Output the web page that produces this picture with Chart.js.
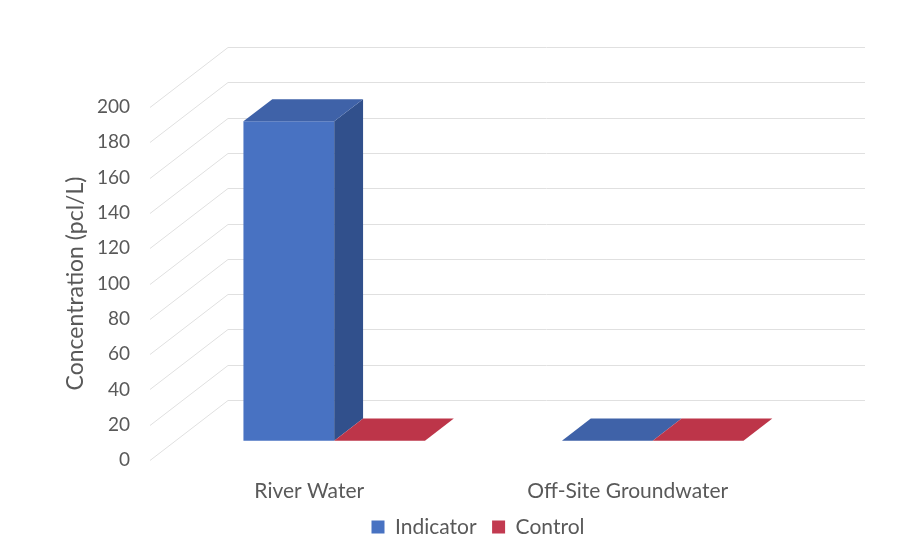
<!DOCTYPE html>
<html>
<head>
<meta charset="utf-8">
<script src="https://cdn.jsdelivr.net/npm/chart.js@4/dist/chart.umd.min.js"></script>
<style>
  html, body { margin: 0; padding: 0; background: #fff; }
  #wrap { width: 919px; height: 560px; }
</style>
</head>
<body>
<div id="wrap"><canvas id="chart"></canvas></div>
<script>
// chart data
const categories = ['River Water', 'Off-Site Groundwater'];
const seriesNames = ['Indicator', 'Control'];
const indicatorValues = [181, 0];
const controlValues = [0, 0];
const yMin = 0, yMax = 200, yStep = 20;

// front / top / side shading for each series
const faceColors = [
  { front: '#4872c2', top: '#3f62a8', side: '#31508c' },
  { front: '#c23a50', top: '#bd3549', side: '#962a3b' }
];

// fake perspective: the back wall sits up and to the right of the axis plane
const WALL_DX = 78, WALL_DY = 60;
const BAR_POS = 0.32;    // bars stand about a third of the way back
const BAR_DEPTH = 0.37;  // and are this deep

const textColor = '#595959';
const fontFamily = 'Lato, "Open Sans", sans-serif';

function fillPoly(ctx, pts, color) {
  ctx.beginPath();
  ctx.moveTo(pts[0][0], pts[0][1]);
  for (let k = 1; k < pts.length; k++) ctx.lineTo(pts[k][0], pts[k][1]);
  ctx.closePath();
  ctx.fillStyle = color;
  ctx.fill();
}

const box3d = {
  id: 'box3d',
  beforeDatasetsDraw(chart) {
    const { ctx, chartArea: a, scales: { y } } = chart;
    ctx.save();
    ctx.strokeStyle = '#e0e0e0';
    ctx.lineWidth = 1;
    for (let v = yMin; v <= yMax; v += yStep) {
      const yf = Math.round(y.getPixelForValue(v)) + 0.5;
      ctx.beginPath();
      ctx.moveTo(a.left, yf);
      ctx.lineTo(a.left + WALL_DX, yf - WALL_DY);
      ctx.lineTo(a.right + WALL_DX, yf - WALL_DY);
      ctx.stroke();
    }
    ctx.restore();
  },
  // the flat bars are replaced by the boxes below
  beforeDatasetDraw() { return false; },
  afterDatasetsDraw(chart) {
    const ctx = chart.ctx;
    const ox = WALL_DX * BAR_POS, oy = WALL_DY * BAR_POS;
    const dx = WALL_DX * BAR_DEPTH, dy = WALL_DY * BAR_DEPTH;
    ctx.save();
    categories.forEach((c, i) => {
      chart.data.datasets.forEach((ds, d) => {
        const el = chart.getDatasetMeta(d).data[i];
        const shade = faceColors[d];
        const l = el.x - el.width / 2 + ox, r = el.x + el.width / 2 + ox;
        const t = el.y - oy, b = el.base - oy;
        if (b - t > 0.5) {
          fillPoly(ctx, [[l, t], [r, t], [r, b], [l, b]], shade.front);
          fillPoly(ctx, [[r, t], [r + dx, t - dy], [r + dx, b - dy], [r, b]], shade.side);
        }
        fillPoly(ctx, [[l, t], [r, t], [r + dx, t - dy], [l + dx, t - dy]], shade.top);
      });
    });
    ctx.restore();
  }
};

const ctx = document.getElementById('chart').getContext('2d');
new Chart(ctx, {
  type: 'bar',
  data: {
    labels: categories,
    datasets: [
      { label: seriesNames[0], data: indicatorValues, backgroundColor: faceColors[0].front },
      { label: seriesNames[1], data: controlValues, backgroundColor: faceColors[1].front }
    ]
  },
  options: {
    responsive: true,
    maintainAspectRatio: false,
    animation: false,
    datasets: { bar: { categoryPercentage: 0.57, barPercentage: 1 } },
    layout: { padding: { top: 107, right: 0, bottom: 12.5, left: 37 } },
    scales: {
      x: {
        grid: { display: false },
        border: { display: false },
        ticks: { color: textColor, font: { family: fontFamily, size: 21 }, padding: 11 },
        afterFit(scale) { scale.height = 41; }
      },
      y: {
        min: yMin,
        max: yMax,
        grid: { display: false },
        border: { display: false },
        ticks: { stepSize: yStep, color: textColor, font: { family: fontFamily, size: 19 }, padding: 12 },
        title: {
          display: true,
          text: 'Concentration (pcl/L)',
          color: textColor,
          font: { family: fontFamily, size: 23 },
          padding: { top: 25, bottom: 0 }
        },
        afterFit(scale) { scale.width = 113; }
      },
      // empty right-hand box that keeps the plot clear of the back wall
      yRight: {
        position: 'right',
        grid: { display: false },
        border: { display: false },
        ticks: { display: false },
        afterFit(scale) { scale.width = 132; }
      }
    },
    plugins: {
      legend: {
        position: 'bottom',
        labels: {
          color: textColor,
          font: { family: fontFamily, size: 21 },
          boxWidth: 13,
          boxHeight: 13,
          padding: 15.5
        }
      },
      tooltip: { enabled: false }
    }
  },
  plugins: [box3d]
});
</script>
</body>
</html>
